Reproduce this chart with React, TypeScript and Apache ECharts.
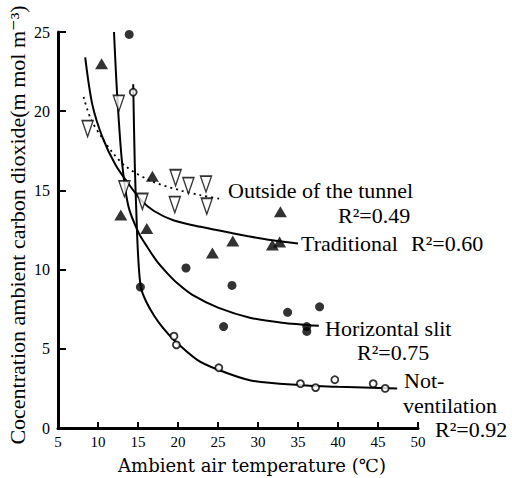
import React, { useEffect, useRef } from "react";
import * as echarts from "echarts";

const xTicks = { min: 5, max: 50, interval: 5 };
const yTicks = { min: 0, max: 25, interval: 5 };

// Observed points
const outsidePts: [number, number][] = [
  [8.7, 18.9], [12.6, 20.5], [13.3, 15.1], [15.55, 14.3], [19.7, 15.8],
  [21.3, 15.3], [23.5, 15.4], [19.6, 14.1], [23.6, 14.0],
];
const traditionalPts: [number, number][] = [
  [10.45, 23.0], [12.85, 13.45], [16.1, 12.6], [16.8, 15.9], [24.3, 11.05],
  [26.85, 11.8], [31.8, 11.55], [32.7, 11.75], [32.8, 13.65],
];
const slitPts: [number, number][] = [
  [13.9, 24.85], [15.3, 8.9], [21.0, 10.1], [25.7, 6.4], [26.75, 9.0],
  [33.7, 7.3], [37.7, 7.65], [36.1, 6.4], [36.1, 6.1],
];
const notVentPts: [number, number][] = [
  [14.4, 21.2], [19.5, 5.8], [19.8, 5.25], [25.1, 3.8], [35.3, 2.8],
  [37.2, 2.55], [39.6, 3.05], [44.4, 2.8], [45.9, 2.5],
];

// Fitted curves
const outsideCurve: [number, number][] = [
  [8.2, 20.9], [9.1, 19.5], [10.4, 18.4], [11.8, 17.4], [13.5, 16.5],
  [16.6, 15.6], [20.3, 15.0], [22.8, 14.7], [25.5, 14.45],
];
const traditionalCurve: [number, number][] = [
  [8.4, 23.4], [9.3, 20.4], [10.6, 18.3], [12.2, 16.6], [13.7, 15.5],
  [15.35, 14.4], [17.0, 13.7], [19.5, 13.1], [22.8, 12.7], [26.8, 12.3],
  [31.1, 11.9], [35.0, 11.65],
];
const slitCurve: [number, number][] = [
  [12.0, 25.0], [12.4, 21.0], [13.0, 16.8], [13.8, 14.0], [15.1, 12.3],
  [16.2, 11.4], [17.4, 10.5], [18.7, 9.75], [20.0, 9.1], [21.8, 8.4],
  [25.0, 7.6], [29.1, 6.95], [33.0, 6.65], [37.6, 6.45],
];
const notVentCurve: [number, number][] = [
  [14.4, 21.7], [14.6, 16.6], [14.8, 13.5], [15.0, 11.0], [15.35, 8.9],
  [16.0, 8.0], [17.0, 7.1], [18.0, 6.4], [19.5, 5.55], [22.4, 4.3],
  [24.9, 3.7], [29.1, 3.0], [35.3, 2.7], [40.0, 2.6], [47.4, 2.5],
];

const FONT = "'Liberation Serif', 'DejaVu Serif', serif";
const FONT2 = "'DejaVu Serif', serif";

export default function App() {
  const ref = useRef<HTMLDivElement>(null);
  useEffect(() => {
    if (!ref.current) return;
    const chart = echarts.init(ref.current, null, { renderer: "svg" });
    const lineSeries = (data: [number, number][], dotted = false) => ({
      type: "line",
      data,
      showSymbol: false,
      smooth: 0.3,
      lineStyle: { color: "#000", width: dotted ? 1.8 : 2, type: dotted ? [2, 4] : "solid" },
      z: 2,
    });
    const downTri = "path://M0,0 L10,0 L5,16 Z";
    const label = (text: string, x: number, y: number) => ({
      type: "text",
      x,
      y,
      style: { text, font: `22px ${FONT}`, fill: "#000", verticalAlign: "middle" },
    });
    chart.setOption({
      animation: false,
      backgroundColor: "#fff",
      grid: { left: 58, right: 94, top: 32, bottom: 50 },
      xAxis: {
        type: "value",
        min: xTicks.min,
        max: xTicks.max,
        interval: xTicks.interval,
        axisLine: { show: true, lineStyle: { color: "#000", width: 3 } },
        axisTick: { show: true, inside: true, length: 6, lineStyle: { color: "#000", width: 2 } },
        axisLabel: { color: "#000", fontSize: 15, fontFamily: FONT, margin: 6 },
        splitLine: { show: false },
      },
      yAxis: {
        type: "value",
        min: yTicks.min,
        max: yTicks.max,
        interval: yTicks.interval,
        axisLine: { show: true, lineStyle: { color: "#000", width: 3 } },
        axisTick: { show: true, inside: true, length: 8, lineStyle: { color: "#000", width: 2 } },
        axisLabel: { color: "#000", fontSize: 16, fontFamily: FONT, margin: 8 },
        splitLine: { show: false },
      },
      series: [
        lineSeries(outsideCurve, true),
        lineSeries(traditionalCurve),
        lineSeries(slitCurve),
        lineSeries(notVentCurve),
        {
          type: "scatter",
          data: outsidePts,
          symbol: downTri,
          symbolSize: [11, 16],
          itemStyle: { color: "#fff", borderColor: "#000", borderWidth: 1.5 },
          z: 3,
        },
        {
          type: "scatter",
          data: traditionalPts,
          symbol: "triangle",
          symbolSize: [13, 11],
          itemStyle: { color: "#000" },
          z: 3,
        },
        {
          type: "scatter",
          data: slitPts,
          symbol: "circle",
          symbolSize: 9,
          itemStyle: { color: "#000" },
          z: 3,
        },
        {
          type: "scatter",
          data: notVentPts,
          symbol: "circle",
          symbolSize: 7,
          itemStyle: { color: "#fff", borderColor: "#000", borderWidth: 1.8 },
          z: 3,
        },
      ],
      graphic: [
        {
          type: "text",
          x: 252,
          y: 465,
          style: {
            text: "Ambient air temperature (℃)",
            font: `18px ${FONT2}`,
            fill: "#000",
            align: "center",
            verticalAlign: "middle",
          },
        },
        {
          type: "text",
          x: 17,
          y: 225,
          rotation: Math.PI / 2,
          style: {
            text: "Cocentration ambient carbon dioxide(m mol m⁻³)",
            font: `22px ${FONT}`,
            fill: "#000",
            align: "center",
            verticalAlign: "middle",
          },
        },
        label("Outside of the tunnel", 228, 190),
        label("R²=0.49", 338, 215),
        label("Traditional", 301, 243),
        label("R²=0.60", 411, 243),
        label("Horizontal slit", 325, 328),
        label("R²=0.75", 357, 352),
        label("Not-", 404, 380),
        label("ventilation", 403, 405),
        label("R²=0.92", 435, 429),
      ],
    });
    return () => chart.dispose();
  }, []);
  return (
    <div
      ref={ref}
      style={{ position: "fixed", left: 0, top: 0, width: 512, height: 478, background: "#fff" }}
    />
  );
}
